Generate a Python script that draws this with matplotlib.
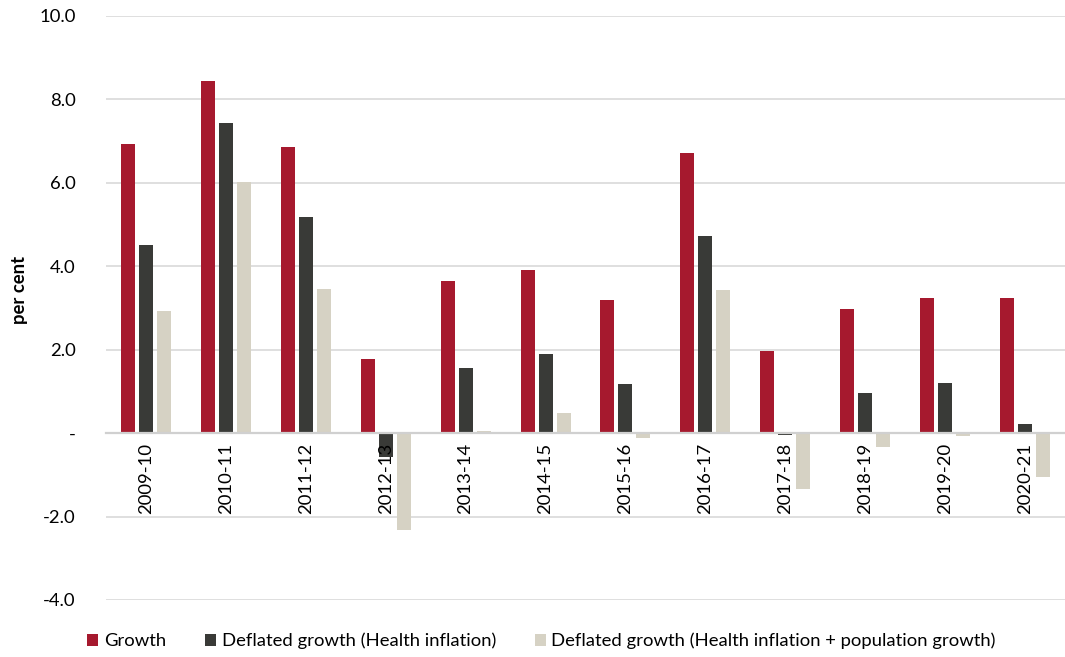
import matplotlib
matplotlib.use("Agg")
import matplotlib.pyplot as plt
import numpy as np

years = ["2009-10", "2010-11", "2011-12", "2012-13", "2013-14", "2014-15",
         "2015-16", "2016-17", "2017-18", "2018-19", "2019-20", "2020-21"]
growth = [6.92, 8.43, 6.87, 1.77, 3.64, 3.91, 3.19, 6.71, 1.97, 2.97, 3.24, 3.24]
deflated_health = [4.50, 7.44, 5.18, -0.58, 1.57, 1.90, 1.18, 4.72, -0.05, 0.97, 1.21, 0.22]
deflated_health_pop = [2.93, 6.03, 3.45, -2.31, 0.05, 0.48, -0.12, 3.43, -1.33, -0.34, -0.08, -1.06]

series_names = ["Growth", "Deflated growth (Health inflation)",
                "Deflated growth (Health inflation + population growth)"]
colors = ["#A6192E", "#393A37", "#D6D2C4"]

plt.rcParams["font.family"] = ["Lato", "DejaVu Sans"]

fig = plt.figure(figsize=(10.65, 6.57), dpi=100)
ax = fig.add_axes([106 / 1065, 1 - 600 / 657, (1065 - 106) / 1065, (600 - 16) / 657])

x = np.arange(len(years))
width = 0.175
step = 0.225
for k, (vals, name, col) in enumerate(zip([growth, deflated_health, deflated_health_pop],
                                          series_names, colors)):
    ax.bar(x + (k - 1) * step, vals, width, color=col, label=name, zorder=3)

ax.set_xlim(-0.5, len(years) - 0.5)
ax.set_ylim(-4, 10)
ax.set_yticks(np.arange(-4, 10.1, 2))
ax.set_yticklabels(["-4.0", "-2.0", "-", "2.0", "4.0", "6.0", "8.0", "10.0"],
                   fontsize=13.3)
ax.yaxis.grid(True, color="#D9D9D9", linewidth=1.2, zorder=0)
ax.tick_params(axis="y", length=0, pad=22)

for s in ["top", "right", "left"]:
    ax.spines[s].set_visible(False)
ax.spines["bottom"].set_position(("data", 0))
ax.spines["bottom"].set_color("#D0D0D0")
ax.spines["bottom"].set_linewidth(1.6)
ax.spines["bottom"].set_zorder(4)

# category labels sit on top of the bars that cross the zero line
ax.set_xticks(x)
ax.set_xticklabels(years, rotation=90, fontsize=13.3, va="top")
ax.tick_params(axis="x", length=0, pad=7)
ax.xaxis.set_zorder(5)

fig.text(20 / 1065, 1 - 290 / 657, "per cent", rotation=90, fontsize=13.3,
         fontweight="bold", ha="center", va="center")

ax.legend(loc="center left", bbox_to_anchor=(80 / 1065, 1 - 641 / 657),
          bbox_transform=fig.transFigure, ncol=3, frameon=False, fontsize=13.3,
          handlelength=0.6, handleheight=0.6, handletextpad=0.3,
          columnspacing=2.1, borderaxespad=0)

fig.savefig("out.png", dpi=100)
